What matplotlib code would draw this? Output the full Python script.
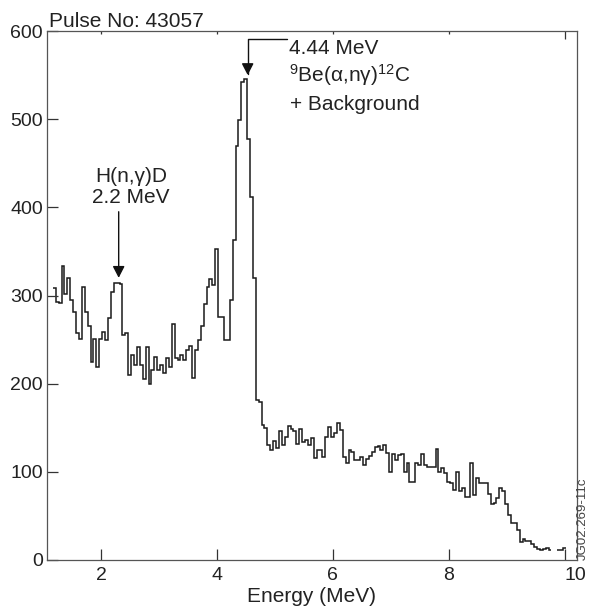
import numpy as np
import matplotlib
matplotlib.use('Agg')
import matplotlib.pyplot as plt

plt.rcParams['font.family'] = ['Liberation Sans', 'DejaVu Sans']
plt.rcParams['mathtext.default'] = 'regular'

# gamma spectrum, pulse 43057 (counts per 0.05 MeV bin, starting at 1.17 MeV)
energy_start = 1.17
bin_width = 0.05
counts = [
    309, 293, 291, 334, 302, 320, 295, 281, 257, 251,
    310, 281, 265, 225, 251, 219, 251, 259, 249, 275,
    304, 314, 314, 313, 255, 258, 210, 232, 221, 242,
    221, 205, 242, 200, 215, 230, 215, 221, 212, 229,
    219, 268, 229, 227, 232, 227, 238, 243, 206, 238,
    249, 265, 290, 310, 319, 312, 353, 276, 276, 249,
    249, 295, 363, 470, 499, 542, 546, 478, 412, 320,
    182, 179, 153, 150, 130, 125, 135, 127, 146, 130,
    140, 152, 149, 146, 132, 149, 134, 136, 130, 138,
    116, 125, 125, 117, 140, 151, 140, 144, 155, 147,
    117, 110, 125, 123, 113, 113, 117, 108, 115, 118,
    123, 128, 129, 125, 130, 121, 100, 120, 113, 119,
    120, 100, 110, 88, 88, 110, 108, 120, 108, 105,
    105, 105, 126, 100, 104, 99, 89, 87, 79, 100,
    78, 82, 72, 72, 110, 74, 93, 87, 87, 87,
    75, 64, 65, 70, 82, 78, 64, 51, 42, 42,
    34, 20, 24, 21, 21, 18, 15, 12, 11, 13,
    14, 11, np.nan, np.nan, 11, 11, 14,
]
x_ticks = [2, 4, 6, 8, 10]
y_ticks = [0, 100, 200, 300, 400, 500, 600]

edges = energy_start + bin_width * np.arange(len(counts) + 1)

fig = plt.figure(figsize=(5.89, 6.12), dpi=100)
ax = fig.add_axes([46.5 / 589, 52 / 612, 530.5 / 589, 529 / 612])

ax.stairs(counts, edges, baseline=None, color='#1a1a1a', lw=1.1)

ax.set_xlim(1.06, 10.21)
ax.set_ylim(0, 600)
ax.set_xticks(x_ticks)
ax.set_yticks(y_ticks)
ax.tick_params(direction='in', length=8, width=0.9, color='#333333',
               labelcolor='#222222', labelsize=14)
ax.tick_params(axis='x', top=True, pad=5)
ax.tick_params(axis='y', pad=2.5)
for t in ax.xaxis.get_major_ticks():
    t.tick2line.set_markersize(2)
ax.xaxis.get_major_ticks()[-1].tick2line.set_markersize(6)
ax.xaxis.get_major_ticks()[-1].label1.set_horizontalalignment('left')

for s in ax.spines.values():
    s.set_color('#555555')
    s.set_linewidth(0.9)

ax.set_xlabel('Energy (MeV)', fontsize=15, color='#222222', labelpad=2)

ax.annotate('Pulse No: 43057', xy=(0, 1), xycoords='axes fraction',
            xytext=(2, 3), textcoords='offset points', va='baseline',
            fontsize=15, color='#222222')

# H(n,gamma)D line
ax.text(2.52, 423, 'H(n,γ)D\n2.2 MeV', ha='center', va='center',
        fontsize=15, color='#222222', linespacing=1.15)
ax.annotate('', xy=(2.305, 320), xytext=(2.305, 395),
            arrowprops=dict(arrowstyle='-|>,head_length=0.35,head_width=0.18',
                            mutation_scale=20, color='#111111', lw=1,
                            shrinkA=0, shrinkB=0))

# 4.44 MeV line
ax.text(5.24, 580, '4.44 MeV', ha='left', va='center', fontsize=15, color='#222222')
ax.text(5.24, 550, '$^{9}$Be(α,nγ)$^{12}$C', ha='left', va='center',
        fontsize=15, color='#222222')
ax.text(5.26, 517, '+ Background', ha='left', va='center', fontsize=15, color='#222222')
ax.annotate('', xy=(4.53, 550), xytext=(5.21, 591),
            arrowprops=dict(arrowstyle='-|>,head_length=0.35,head_width=0.18',
                            mutation_scale=20, color='#111111', lw=1,
                            shrinkA=0, shrinkB=0,
                            connectionstyle='angle,angleA=0,angleB=90,rad=0'))

fig.text(583 / 589, 52 / 612, 'JG02.269-11c', rotation=90, ha='center',
         va='bottom', fontsize=9.5, color='#444444')

fig.savefig('out.png', dpi=100)
